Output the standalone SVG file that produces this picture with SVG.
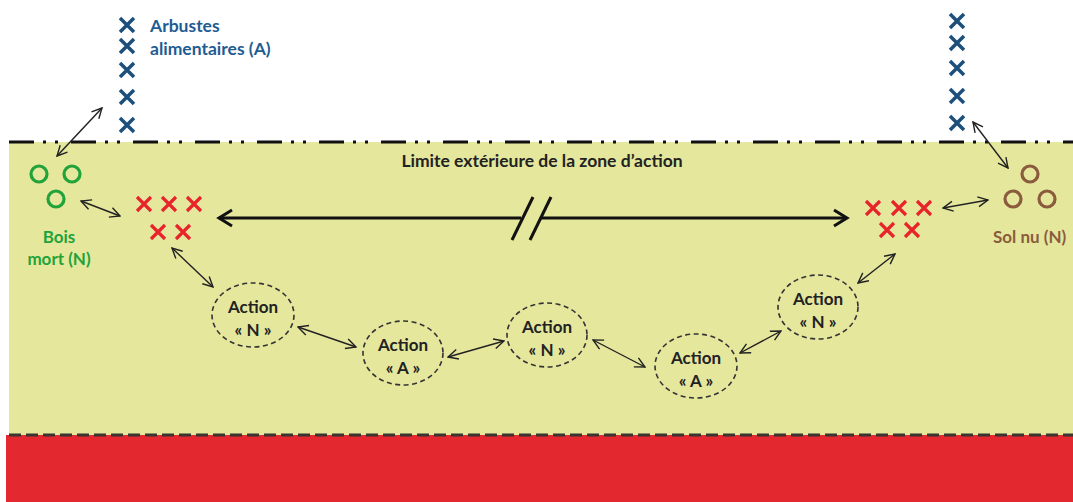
<svg xmlns="http://www.w3.org/2000/svg" width="1073" height="502" viewBox="0 0 1073 502">
<style>
.t{font-family:Lato,"Liberation Sans",sans-serif;font-weight:bold}
.bx{stroke:#1c4f7c;stroke-width:3.5;stroke-linecap:butt;fill:none}
.rx{stroke:#e8242b;stroke-width:3.2;fill:none}
.gc{stroke:#22a33a;stroke-width:3.2;fill:none}
.bc{stroke:#8a5c3d;stroke-width:3.2;fill:none}
.el{fill:none;stroke:#333;stroke-width:1.6;stroke-dasharray:5 3.5}
.thin{stroke:#222;stroke-width:1.4;fill:none;marker-start:url(#ah);marker-end:url(#ah)}
.at{font-size:17px;fill:#222;text-anchor:middle}
</style>
<defs>
<marker id="ah" viewBox="0 0 12 12" refX="11" refY="6" markerWidth="12" markerHeight="12" markerUnits="userSpaceOnUse" orient="auto-start-reverse">
<path d="M1,1 L11,6 L1,11" fill="none" stroke="#222" stroke-width="1.4"/>
</marker>
<path id="x" d="M-7,-7 L7,7 M7,-7 L-7,7"/>
</defs>
<rect x="9" y="142" width="1064" height="293" fill="#e5e79d"/>
<rect x="6" y="435" width="1067" height="67" fill="#e4282f"/>
<line x1="9" y1="142" x2="1073" y2="142" stroke="#111" stroke-width="3" stroke-dasharray="25 9 3 9 3 13"/>
<line x1="9" y1="435" x2="1073" y2="435" stroke="#3a3530" stroke-width="3" stroke-dasharray="12 5"/>
<text class="t" x="542" y="167" font-size="17.5" fill="#222" text-anchor="middle">Limite extérieure de la zone d’action</text>
<g id="arbustes-gauche">
<g class="bx"><use href="#x" x="127" y="25"/><use href="#x" x="127" y="46"/><use href="#x" x="127" y="70"/><use href="#x" x="127" y="97"/><use href="#x" x="127" y="125"/></g>
<text class="t" x="150" y="32" font-size="17.5" fill="#1f5c93">Arbustes</text>
<text class="t" x="150" y="55" font-size="17.5" fill="#1f5c93">alimentaires (A)</text>
</g>
<g id="arbustes-droite" class="bx"><use href="#x" x="957" y="21"/><use href="#x" x="957" y="43"/><use href="#x" x="957" y="68"/><use href="#x" x="957" y="96"/><use href="#x" x="957" y="123"/></g>
<g id="bois-mort">
<circle class="gc" cx="39" cy="174" r="8"/><circle class="gc" cx="72" cy="174" r="8"/><circle class="gc" cx="56" cy="199" r="8"/>
<text class="t" x="59" y="243" font-size="17" fill="#22a33a" text-anchor="middle">Bois</text>
<text class="t" x="59" y="265" font-size="17" fill="#22a33a" text-anchor="middle">mort (N)</text>
</g>
<g id="sol-nu">
<circle class="bc" cx="1030" cy="174" r="8"/><circle class="bc" cx="1013" cy="199" r="8"/><circle class="bc" cx="1047" cy="199" r="8"/>
<text class="t" x="993" y="243" font-size="17" fill="#8a5c3d">Sol nu (N)</text>
</g>
<g id="zone-gauche" class="rx"><use href="#x" x="144" y="204"/><use href="#x" x="169" y="204"/><use href="#x" x="194" y="204"/><use href="#x" x="158" y="232"/><use href="#x" x="183" y="232"/></g>
<g id="zone-droite" class="rx"><use href="#x" x="873" y="208"/><use href="#x" x="899" y="208"/><use href="#x" x="924" y="208"/><use href="#x" x="887" y="230"/><use href="#x" x="912" y="230"/></g>
<g id="action-n1"><ellipse class="el" cx="253" cy="315" rx="41" ry="32"/><text class="t at" x="253" y="313">Action</text><text class="t at" x="253" y="336">« N »</text></g>
<g id="action-a1"><ellipse class="el" cx="403" cy="353" rx="40" ry="32"/><text class="t at" x="403" y="351">Action</text><text class="t at" x="403" y="374">« A »</text></g>
<g id="action-n2"><ellipse class="el" cx="547" cy="335" rx="40" ry="32"/><text class="t at" x="547" y="333">Action</text><text class="t at" x="547" y="356">« N »</text></g>
<g id="action-a2"><ellipse class="el" cx="696" cy="366" rx="41" ry="32"/><text class="t at" x="696" y="364">Action</text><text class="t at" x="696" y="387">« A »</text></g>
<g id="action-n3"><ellipse class="el" cx="818" cy="307" rx="40" ry="32"/><text class="t at" x="818" y="305">Action</text><text class="t at" x="818" y="328">« N »</text></g>
<g id="connecteurs">
<g stroke="#111" stroke-width="3" fill="none">
<line x1="219" y1="218" x2="521" y2="218"/>
<line x1="540" y1="218" x2="847" y2="218"/>
<path d="M232,210 L219,218 L232,226"/>
<path d="M834,210 L847,218 L834,226"/>
<line x1="512" y1="240" x2="533" y2="197"/>
<line x1="530" y1="240" x2="551" y2="197"/>
</g>
<line class="thin" x1="57" y1="156" x2="102" y2="108"/>
<line class="thin" x1="81" y1="201" x2="120" y2="216"/>
<line class="thin" x1="172" y1="248" x2="213" y2="287"/>
<line class="thin" x1="298" y1="327" x2="356" y2="347"/>
<line class="thin" x1="448" y1="357" x2="504" y2="341"/>
<line class="thin" x1="593" y1="340" x2="645" y2="367"/>
<line class="thin" x1="740" y1="353" x2="781" y2="331"/>
<line class="thin" x1="858" y1="283" x2="895" y2="254"/>
<line class="thin" x1="943" y1="208" x2="988" y2="200"/>
<line class="thin" x1="973" y1="122" x2="1008" y2="168"/>
</g>
</svg>
